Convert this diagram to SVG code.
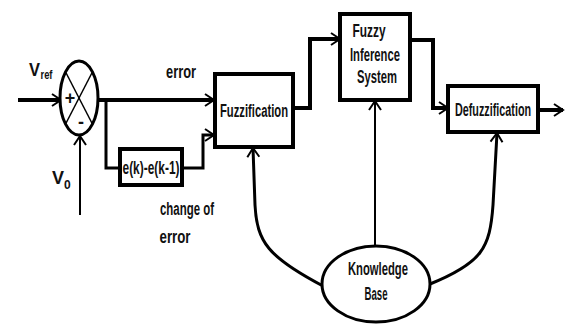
<svg xmlns="http://www.w3.org/2000/svg" width="566" height="324" viewBox="0 0 566 324">
  <defs>
    <marker id="arrow" markerUnits="userSpaceOnUse" markerWidth="20" markerHeight="20" refX="0" refY="0" viewBox="-12 -10 14 20" orient="auto" overflow="visible">
      <path d="M-9,-6 L0,0 L-9,6" fill="none" stroke="#000" stroke-width="2"/>
    </marker>
    <style>
      .box { fill: #fff; stroke: #000; stroke-width: 4; }
      .oval { fill: #fff; stroke: #000; stroke-width: 3; }
      .thick { fill: none; stroke: #000; stroke-width: 4; }
      .mid { fill: none; stroke: #000; stroke-width: 3; }
      .thin { fill: none; stroke: #000; stroke-width: 2; }
      .arr { marker-end: url(#arrow); }
      text { font-family: "Liberation Sans", Arial, sans-serif; font-weight: bold; fill: #111; }
      .lbl { font-size: 18px; text-anchor: middle; }
    </style>
  </defs>

  <rect width="566" height="324" fill="#fff"/>

  <!-- connectors -->
  <g id="connectors">
    <path class="thick arr" d="M18,100 L61,100"/>
    <path class="thick arr" d="M98,100 L214,100"/>
    <path class="mid" d="M106,100 L106,168 L120,168"/>
    <path class="mid arr" d="M182,168 L203,168 L203,135 L214,135"/>
    <path class="thick arr" d="M293,108 L310,108 L310,39 L340,39"/>
    <path class="thick arr" d="M410,40 L433,40 L433,108 L448,108"/>
    <path class="thick arr" d="M538,110 L563,110"/>
    <path class="thin arr" d="M80,215 L80,136"/>
    <path class="thin arr" d="M375,246 L375,101"/>
    <path class="mid arr" d="M323,286 C268,257 257,242 255,205 L253,148"/>
    <path class="mid arr" d="M430,284 C482,263 490,248 493,205 L497,133"/>
  </g>

  <!-- summing junction -->
  <g id="sum">
    <ellipse class="oval" cx="79" cy="98" rx="19" ry="37"/>
    <line x1="65.6" y1="72" x2="92.4" y2="124" stroke="#000" stroke-width="1.5"/>
    <line x1="92.4" y1="72" x2="65.6" y2="124" stroke="#000" stroke-width="1.5"/>
    <text x="70" y="104" class="lbl" font-size="19">+</text>
    <text x="81" y="128" class="lbl" font-size="21">-</text>
  </g>

  <g id="vref">
    <text x="29" y="76" font-size="18" textLength="11" lengthAdjust="spacingAndGlyphs">V</text>
    <text x="40.5" y="79" font-size="13" textLength="12" lengthAdjust="spacingAndGlyphs">ref</text>
  </g>
  <g id="v0">
    <text x="52" y="184" font-size="18">V<tspan font-size="12" dy="5">0</tspan></text>
  </g>

  <g id="error-label">
    <text x="181" y="78" class="lbl" textLength="30" lengthAdjust="spacingAndGlyphs">error</text>
  </g>

  <g id="delta">
    <rect class="box" x="120" y="149" width="62" height="36"/>
    <text x="151" y="174" class="lbl" textLength="57" lengthAdjust="spacingAndGlyphs">e(k)-e(k-1)</text>
  </g>

  <g id="change-label">
    <text x="187" y="215" class="lbl" textLength="54" lengthAdjust="spacingAndGlyphs">change of</text>
    <text x="175" y="243" class="lbl" textLength="31" lengthAdjust="spacingAndGlyphs">error</text>
  </g>

  <g id="fuzzification">
    <rect class="box" x="215" y="74" width="78" height="73"/>
    <text x="254" y="117" class="lbl" font-size="19" textLength="68" lengthAdjust="spacingAndGlyphs">Fuzzification</text>
  </g>

  <g id="inference">
    <rect class="box" x="340" y="14" width="70" height="86"/>
    <text x="369" y="37" class="lbl" textLength="33" lengthAdjust="spacingAndGlyphs">Fuzzy</text>
    <text x="375" y="61" class="lbl" textLength="50" lengthAdjust="spacingAndGlyphs">Inference</text>
    <text x="377" y="83" class="lbl" textLength="40" lengthAdjust="spacingAndGlyphs">System</text>
  </g>

  <g id="defuzzification">
    <rect class="box" x="448" y="86" width="90" height="46"/>
    <!-- horizontally condensed label -->
    <text class="lbl" transform="translate(493,116) scale(0.6,1)">Defuzzification</text>
  </g>

  <g id="knowledge">
    <ellipse class="oval" cx="376" cy="284" rx="54" ry="38"/>
    <text x="378" y="275" class="lbl" textLength="60" lengthAdjust="spacingAndGlyphs">Knowledge</text>
    <text x="376" y="300" class="lbl" textLength="23" lengthAdjust="spacingAndGlyphs">Base</text>
  </g>
</svg>
